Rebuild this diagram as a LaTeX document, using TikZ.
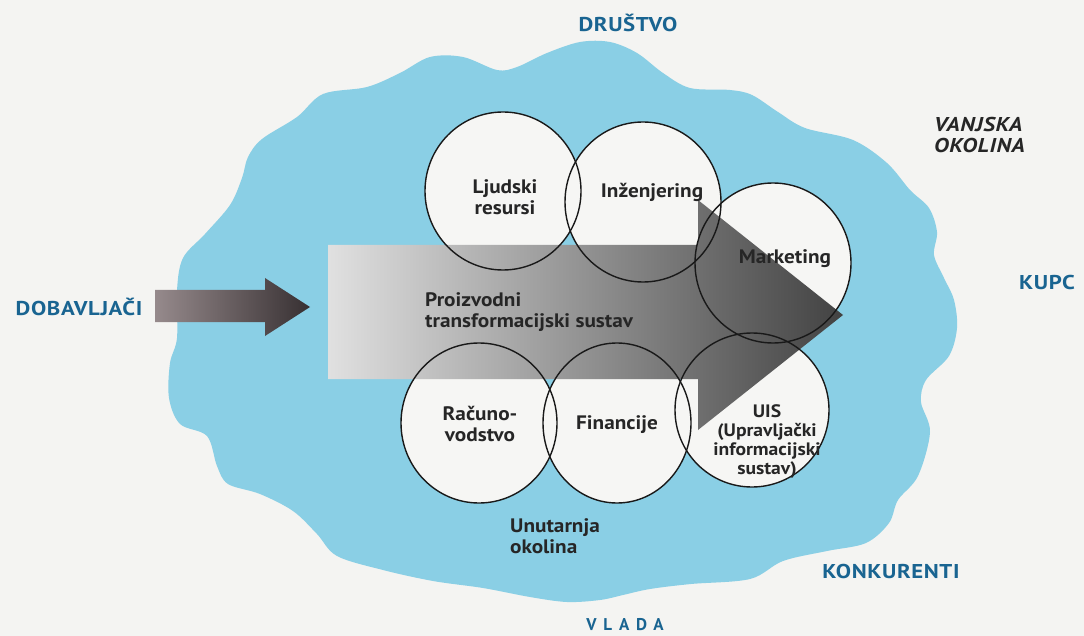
\documentclass[tikz,border=0pt]{standalone}
\usepackage{fontspec}
\setmainfont{PT Sans}
\newfontfamily\widesans[FakeStretch=1.09]{PT Sans}
\newfontfamily\wideblue[FakeStretch=1.14, LetterSpace=3]{PT Sans}
\usetikzlibrary{shapes.geometric}
\definecolor{cloud}{RGB}{138,207,229}
\definecolor{lab}{RGB}{25,100,145}
\definecolor{paper}{RGB}{244,244,242}
\definecolor{disc}{RGB}{246,246,244}
\definecolor{smallL}{RGB}{150,138,140}
\definecolor{smallR}{RGB}{55,48,50}
\tikzset{
  ring/.style={ellipse, draw=black!90, line width=1.4pt, fill=none, inner sep=0pt},
  txt/.style={font=\widesans\fontsize{19.5}{20.5}\selectfont\bfseries, text=black!85, align=center, inner sep=0pt},
  bluelbl/.style={font=\wideblue\fontsize{20}{21}\selectfont\bfseries, text=lab, inner sep=0pt},
  arrowshade/.style={left color=black!12, right color=black!74},
}
\begin{document}
\begin{tikzpicture}[x=1pt,y=-1pt]
\fill[paper] (0,0) rectangle (1084,636);
\useasboundingbox (0,0) rectangle (1084,636);
% cloud (internal environment)
\fill[cloud] plot[smooth cycle, tension=0.55] coordinates {
 (400,73) (430,57) (463,57) (497,70) (517,67) (547,53) (580,42) (610,42)
 (637,53) (663,73) (690,88) (730,90) (752,95) (778,112) (805,128) (853,140)
 (887,163) (910,190) (929,208) (937,232) (934,255) (944,278) (954,300)
 (957,328) (949,356) (926,380) (921,402) (930,432) (918,476) (898,500)
 (889,523) (866,543) (827,551) (783,561) (750,579) (691,584) (650,589)
 (623,595) (600,600) (567,602) (530,597) (483,588) (433,581) (383,570)
 (337,556) (317,534) (293,511) (260,494) (228,484) (217,466) (207,436)
 (180,424) (169,398) (170,363) (177,338) (177,290) (183,258) (205,234)
 (230,205) (242,178) (248,157) (262,139) (297,117) (323,94) (367,87)};
% white discs
\fill[disc] (503,191) ellipse [x radius=78, y radius=79];
\fill[disc] (643,202) ellipse [x radius=78, y radius=80];
\fill[disc] (773,263) ellipse [x radius=78, y radius=80];
\fill[disc] (479,423) ellipse [x radius=78, y radius=80];
\fill[disc] (617,423) ellipse [x radius=74, y radius=80];
\fill[disc] (752,410) ellipse [x radius=77, y radius=77];
% big arrow
\shade[arrowshade] (328,245) -- (698,245) -- (698,200) -- (843,315)
  -- (698,430) -- (698,379) -- (328,379) -- cycle;
% small arrow
\shade[left color=smallL, right color=smallR] (155,290) -- (265,290) -- (265,278)
  -- (310,307) -- (265,336) -- (265,322) -- (155,322) -- cycle;
% circle outlines
\node[ring, minimum width=156pt, minimum height=158pt] (lj) at (503,191) {};
\node[ring, minimum width=156pt, minimum height=160pt] (in) at (643,202) {};
\node[ring, minimum width=156pt, minimum height=160pt] (ma) at (773,263) {};
\node[ring, minimum width=156pt, minimum height=160pt] (ra) at (479,423) {};
\node[ring, minimum width=148pt, minimum height=160pt] (fi) at (617,423) {};
\node[ring, minimum width=154pt, minimum height=154pt] (ui) at (752,410) {};
% labels in circles
\node[txt] (tlj) at (505,197) {Ljudski\\resursi};
\node[txt] (tin) at (652,192) {Inženjering};
\node[txt] (tma) at (785,259) {Marketing};
\node[txt] (tra) at (480,424) {Računo-\\vodstvo};
\node[txt] (tfi) at (617,425) {Financije};
\node[txt, font=\widesans\fontsize{18}{19}\selectfont\bfseries] (tui) at (767,442) {UIS\\(Upravljački\\informacijski\\sustav)};
\node[txt, align=left, anchor=west] (tpr) at (425,312) {Proizvodni\\transformacijski sustav};
\node[txt, align=left, anchor=west] (tun) at (510,536) {Unutarnja\\okolina};
% outer labels
\node[bluelbl] (dr) at (628,23) {DRUŠTVO};
\node[bluelbl] (do) at (79,307) {DOBAVLJAČI};
\node[bluelbl, anchor=west] (ku) at (1019,283) {KUPC};
\node[bluelbl] (ko) at (891,571) {KONKURENTI};
\node[bluelbl, font=\fontsize{17}{18}\selectfont\bfseries\addfontfeature{LetterSpace=40}] (vl) at (625,625) {VLADA};
\node[txt, align=left, anchor=west, font=\wideblue\fontsize{20}{21.5}\selectfont\bfseries\itshape] (va) at (934,135) {VANJSKA\\OKOLINA};
\end{tikzpicture}
\end{document}
